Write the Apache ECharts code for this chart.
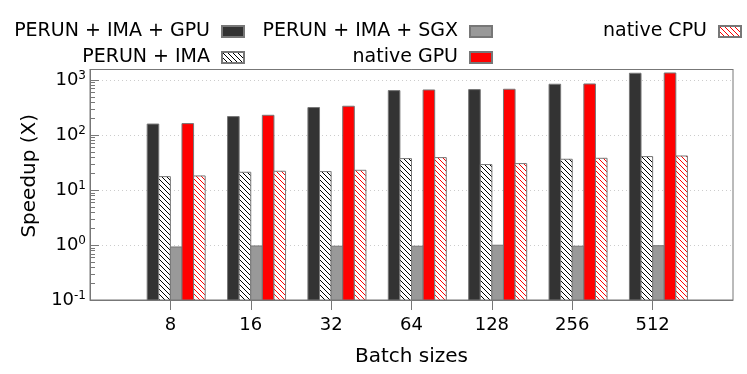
<!DOCTYPE html>
<html><head><meta charset="utf-8">
<script src="https://cdn.jsdelivr.net/npm/echarts@6/dist/echarts.min.js"></script>
<style>html,body{margin:0;padding:0;background:#fff}#c{width:747px;height:374px}</style>
</head><body><div id="c"></div>
<script>
var categories = ['8', '16', '32', '64', '128', '256', '512'];
var perunImaGpu = [158, 216, 315, 641, 668, 836, 1324];
var perunIma = [17.5, 21, 21.6, 37.2, 29, 36.2, 40.5];
var perunImaSgx = [0.92, 0.96, 0.95, 0.95, 0.99, 0.95, 0.97];
var nativeGpu = [161, 228, 333, 658, 678, 846, 1340];
var nativeCpu = [18.0, 21.9, 22.8, 38.8, 30.2, 37.7, 41.5];
var yMajorTicks = [0.1, 1, 10, 100, 1000];

var FONT = 'DejaVu Sans';
var Y_MIN = 0.1, Y_MAX = 1550, BW = 11.6;
function hatch(color) {
  var s = 5, c = document.createElement('canvas');
  c.width = s; c.height = s;
  var g = c.getContext('2d');
  g.fillStyle = '#fff'; g.fillRect(0, 0, s, s);
  g.strokeStyle = color; g.lineWidth = 1;
  for (var k = -1; k <= 1; k++) {
    g.beginPath(); g.moveTo(k * s, 0); g.lineTo(k * s + s, s); g.stroke();
  }
  return {image: c, repeat: 'repeat'};
}
var axisCats = [''].concat(categories, ['']);
var minorTicks = [];
yMajorTicks.slice(0, -1).forEach(function (b) { for (var m = 2; m <= 9; m++) minorTicks.push(b * m); });

var names = ['PERUN + IMA + GPU', 'PERUN + IMA', 'PERUN + IMA + SGX', 'native GPU', 'native CPU'];
var fills = ['#333333', hatch('#000'), '#999999', '#ff0000', hatch('#ff0000')];
var datas = [perunImaGpu, perunIma, perunImaSgx, nativeGpu, nativeCpu];

var series = names.map(function (n, i) {
  return {
    type: 'custom', name: n, xAxisIndex: 0, yAxisIndex: 0,
    encode: {x: 0, y: 1},
    data: categories.map(function (c, j) { return [c, datas[i][j]]; }),
    itemStyle: {color: fills[i], borderColor: '#777', borderWidth: 1},
    renderItem: function (params, api) {
      var top = api.coord([api.value(0), api.value(1)]);
      var base = api.coord([api.value(0), Y_MIN]);
      return {type: 'rect',
        shape: {x: top[0] + (i - 2) * BW, y: top[1], width: BW, height: base[1] - top[1]},
        style: {fill: fills[i], stroke: '#777', lineWidth: 1}};
    }
  };
});

// tick marks on the left axis (major inside length 9, minor length 5)
function tickSeries(values, len) {
  return {
    type: 'custom', silent: true, xAxisIndex: 0, yAxisIndex: 0, encode: {x: 0, y: 1},
    data: values.map(function (v) { return [0, v]; }),
    renderItem: function (params, api) {
      var p = api.coord([0, api.value(1)]);
      var y = Math.round(p[1]) + 0.5;
      return {type: 'line', shape: {x1: p[0], y1: y, x2: p[0] + len, y2: y},
        style: {stroke: '#777', lineWidth: 1}};
    }
  };
}
series.push(tickSeries(minorTicks, 5));
series.push(tickSeries(yMajorTicks, 9));

function legend(name, right, top) {
  return {data: [name], right: right, top: top, align: 'right', padding: 0, icon: 'rect',
    itemWidth: 22, itemHeight: 11, selectedMode: false,
    textStyle: {fontFamily: FONT, fontSize: 19, color: '#000', padding: [0, 7, 0, 0]}};
}

var chart = echarts.init(document.getElementById('c'));
chart.setOption({
  animation: false,
  textStyle: {fontFamily: FONT},
  legend: [
    legend(names[0], 502, 22),
    legend(names[1], 502, 48),
    legend(names[2], 254, 22),
    legend(names[3], 254, 48),
    legend(names[4], 5, 22)
  ],
  grid: {left: 90, right: 14, top: 69.5, bottom: 74, show: true, borderColor: '#777', borderWidth: 1, containLabel: false},
  xAxis: [{
    type: 'category', data: axisCats, boundaryGap: false,
    name: 'Batch sizes', nameLocation: 'middle', nameGap: 47,
    nameTextStyle: {fontFamily: FONT, fontSize: 20, color: '#000'},
    axisLine: {onZero: false, lineStyle: {color: '#777'}},
    axisTick: {length: 10, lineStyle: {color: '#777'}, interval: function (i) { return i > 0 && i < axisCats.length - 1; }},
    axisLabel: {interval: 0, fontFamily: FONT, fontSize: 18, color: '#000', margin: 16},
    splitLine: {show: false}
  }, {
    type: 'category', data: axisCats, boundaryGap: false, position: 'top',
    axisLine: {show: true, onZero: false, lineStyle: {color: '#777'}},
    axisTick: {show: false}, axisLabel: {show: false}, splitLine: {show: false}
  }],
  yAxis: [{
    type: 'log', logBase: 10, min: Y_MIN, max: Y_MAX,
    name: 'Speedup (X)', nameLocation: 'middle', nameGap: 48,
    nameTextStyle: {fontFamily: FONT, fontSize: 20, color: '#000', padding: [0, 0, 0, 18]},
    axisLine: {show: true, onZero: false, lineStyle: {color: '#777'}},
    axisTick: {show: false},
    axisLabel: {
      fontFamily: FONT, fontSize: 18, color: '#000', margin: 4,
      formatter: function (v) {
        var e = Math.log10(v), r = Math.round(e);
        if (Math.abs(e - r) > 1e-6) return '';
        return '10{s|' + r + '}';
      },
      rich: {s: {fontFamily: FONT, fontSize: 12, color: '#000', padding: [0, 0, 9, 0]}}
    },
    splitLine: {show: true, lineStyle: {color: '#ccc', type: [1, 3]}}
  }],
  series: series
});
</script></body></html>
